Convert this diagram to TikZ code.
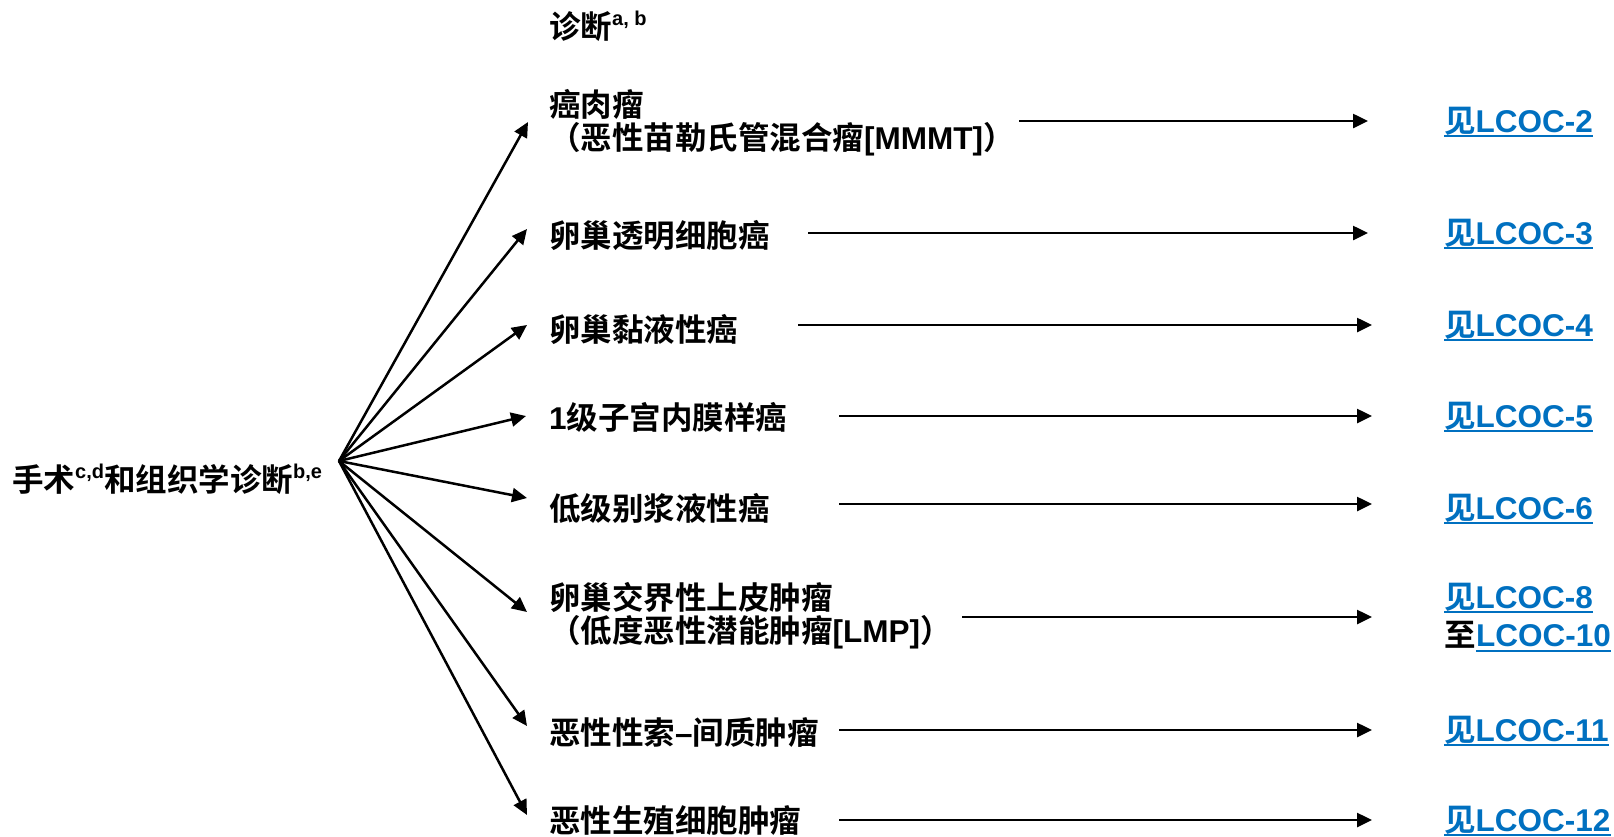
\documentclass[tikz,border=0pt]{standalone}
\usepackage{fontspec}
\setmainfont{Liberation Sans}[BoldFont={Liberation Sans Bold}]
\newfontfamily\cjk{Noto Sans CJK SC}[BoldFont={Noto Sans CJK SC Bold}]
\usetikzlibrary{arrows.meta}
\definecolor{linkblue}{HTML}{0070C0}
\newcommand\zh[1]{{\cjk\bfseries #1}}
\newcommand\sps[1]{\raisebox{0.40em}{\fontsize{20}{20}\selectfont\bfseries #1}}
\tikzset{
 txt/.style={anchor=west, inner sep=0pt, font=\fontsize{31.5}{36}\selectfont\bfseries},
 lnk/.style={txt, text=linkblue},
 arr/.style={-{Triangle[length=15pt,width=14pt]}, line width=2.5pt},
 ul/.style={linkblue, line width=2pt}
}
\begin{document}
\begin{tikzpicture}[x=1pt,y=-1pt]
\useasboundingbox (0,0) rectangle (1614,836);
% headings
\node[txt] (title) at (549,26) {\zh{诊断}\sps{a, b}};
\node[txt] (src) at (12,479) {\zh{手术}\sps{c,d}\zh{和组织学诊断}\sps{b,e}};
\coordinate (fan) at (339,461);
% left labels
\node[txt] (l1a) at (549,104) {\zh{癌肉瘤}};
\node[txt] (l1b) at (549,139) {\zh{（恶性苗勒氏管混合瘤}[MMMT]\zh{）}};
\node[txt] (l2) at (549,236) {\zh{卵巢透明细胞癌}};
\node[txt] (l3) at (549,329) {\zh{卵巢黏液性癌}};
\node[txt] (l4) at (549,417) {1\zh{级子宫内膜样癌}};
\node[txt] (l5) at (549,508) {\zh{低级别浆液性癌}};
\node[txt] (l6a) at (549,597) {\zh{卵巢交界性上皮肿瘤}};
\node[txt] (l6b) at (549,632) {\zh{（低度恶性潜能肿瘤}[LMP]\zh{）}};
\node[txt] (l7) at (549,732) {\zh{恶性性索}–\zh{间质肿瘤}};
\node[txt] (l8) at (549,820) {\zh{恶性生殖细胞肿瘤}};
% fan tips
\coordinate (t1) at (528,122);
\coordinate (t2) at (527,229);
\coordinate (t3) at (527,325);
\coordinate (t4) at (526,416);
\coordinate (t5) at (527,498);
\coordinate (t6) at (527,612);
\coordinate (t7) at (527,726);
\coordinate (t8) at (527,815);
\foreach \i in {1,...,8}{\draw[arr] (fan) -- (t\i);}
% right labels
\node[lnk] (r1) at (1444,121) {\zh{见}LCOC-2};
\node[lnk] (r2) at (1444,233) {\zh{见}LCOC-3};
\node[lnk] (r3) at (1444,325) {\zh{见}LCOC-4};
\node[lnk] (r4) at (1444,416) {\zh{见}LCOC-5};
\node[lnk] (r5) at (1444,508) {\zh{见}LCOC-6};
\node[lnk] (r6a) at (1444,597) {\zh{见}LCOC-8};
\node[txt] (r6z) at (1444,635) {\zh{至}};
\node[lnk, anchor=base west] (r6b) at (r6z.base east) {LCOC-10};
\node[lnk] (r7) at (1444,730) {\zh{见}LCOC-11};
\node[lnk] (r8) at (1444,820) {\zh{见}LCOC-12};
\foreach \n in {r1,r2,r3,r4,r5,r6a,r6b,r7,r8}{
 \draw[ul] ([yshift=-4pt]\n.base west) -- ([yshift=-4pt]\n.base east);}
% horizontal arrows
\coordinate (s1) at (1019,121); \coordinate (e1) at (1368,121);
\coordinate (s2) at (808,233);  \coordinate (e2) at (1368,233);
\coordinate (s3) at (798,325);  \coordinate (e3) at (1372,325);
\coordinate (s4) at (839,416);  \coordinate (e4) at (1372,416);
\coordinate (s5) at (839,504);  \coordinate (e5) at (1372,504);
\coordinate (s6) at (962,617);  \coordinate (e6) at (1372,617);
\coordinate (s7) at (839,730);  \coordinate (e7) at (1372,730);
\coordinate (s8) at (839,820);  \coordinate (e8) at (1372,820);
\foreach \i in {1,...,8}{\draw[arr] (s\i) -- (e\i);}
\end{tikzpicture}
\end{document}
